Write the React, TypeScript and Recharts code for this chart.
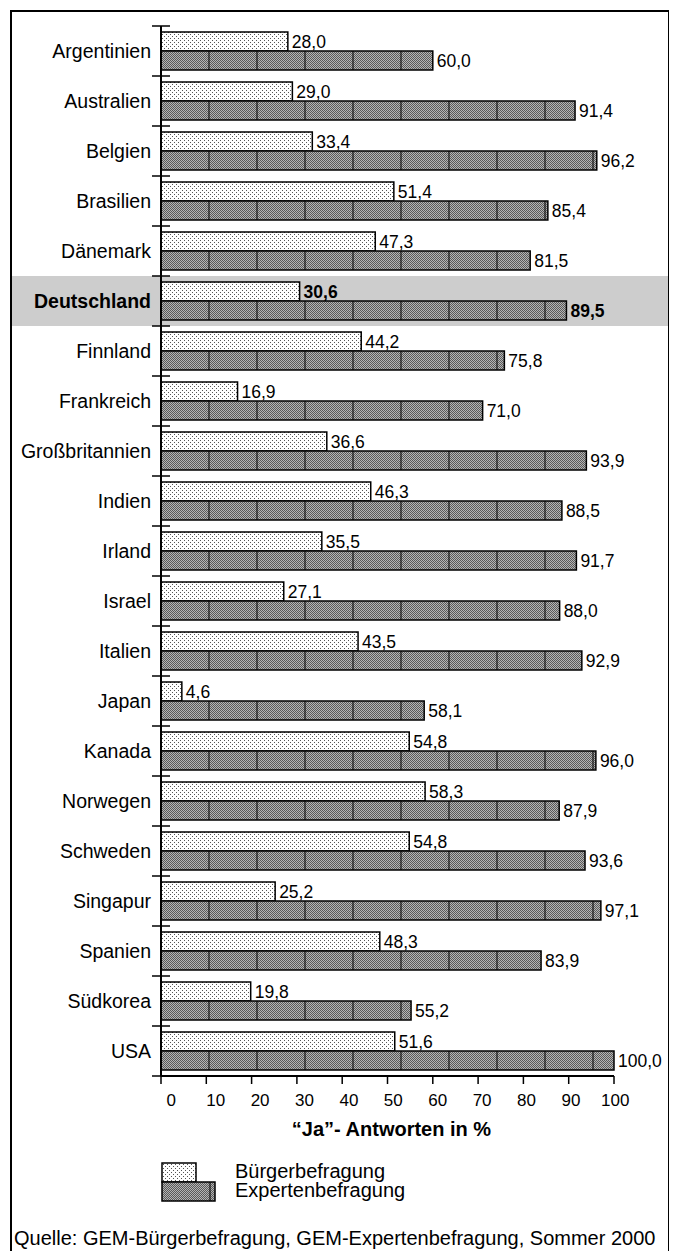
import React from 'react';
import { BarChart, Bar, XAxis, YAxis, ReferenceArea, LabelList, Legend } from 'recharts';

// Countries in display order (top to bottom)
const countries = [
  'Argentinien', 'Australien', 'Belgien', 'Brasilien', 'Dänemark', 'Deutschland',
  'Finnland', 'Frankreich', 'Großbritannien', 'Indien', 'Irland', 'Israel',
  'Italien', 'Japan', 'Kanada', 'Norwegen', 'Schweden', 'Singapur', 'Spanien',
  'Südkorea', 'USA',
];

// Share of "Ja" answers, citizen survey (%)
const buergerValues = [
  28.0, 29.0, 33.4, 51.4, 47.3, 30.6, 44.2, 16.9, 36.6, 46.3, 35.5, 27.1,
  43.5, 4.6, 54.8, 58.3, 54.8, 25.2, 48.3, 19.8, 51.6,
];

// Share of "Ja" answers, expert survey (%)
const expertenValues = [
  60.0, 91.4, 96.2, 85.4, 81.5, 89.5, 75.8, 71.0, 93.9, 88.5, 91.7, 88.0,
  92.9, 58.1, 96.0, 87.9, 93.6, 97.1, 83.9, 55.2, 100.0,
];

const xTicks = [0, 10, 20, 30, 40, 50, 60, 70, 80, 90, 100];
const seriesNames = ['Bürgerbefragung', 'Expertenbefragung'];
const highlightCountry = 'Deutschland';
const axisTitle = '“Ja”- Antworten in %';
const sourceNote = 'Quelle: GEM-Bürgerbefragung, GEM-Expertenbefragung, Sommer 2000';

const data = countries.map((name, i) => ({
  name,
  buerger: buergerValues[i],
  experten: expertenValues[i],
}));

const FONT = '"Liberation Sans", Arial, Helvetica, sans-serif';
const CHART_W = 662;
const CHART_H = 1243;
const MARGIN = { top: 18, right: 56, bottom: 135, left: 0 };
const Y_AXIS_W = 153;
const X_AXIS_H = 40;
const PLOT_H = CHART_H - MARGIN.top - MARGIN.bottom - X_AXIS_H;
const BAND = PLOT_H / countries.length;
const BRICK = 48; // spacing of the joints drawn in the expert bars
const HIGHLIGHT_FROM = -33;
const HIGHLIGHT_TO = 112;

const fmt = (v: number) => v.toFixed(1).replace('.', ',');

const CountryTick = (props: any) => {
  const { x, y, payload } = props;
  const name = payload.value as string;
  const bold = name === highlightCountry;
  const isLast = name === countries[countries.length - 1];
  return (
    <g>
      <line x1={x - 9} x2={x + 9} y1={y - BAND / 2} y2={y - BAND / 2} stroke="#000" strokeWidth={1.5} />
      {isLast && (
        <line x1={x - 9} x2={x} y1={y + BAND / 2} y2={y + BAND / 2} stroke="#000" strokeWidth={1.5} />
      )}
      <text
        x={x - 10}
        y={y}
        dy="0.355em"
        textAnchor="end"
        fontSize={19.5}
        fontWeight={bold ? 700 : 400}
        fontFamily={FONT}
        fill="#000"
      >
        {name}
      </text>
    </g>
  );
};

const PercentTick = (props: any) => {
  const { x, y, payload } = props;
  const v = Number(payload.value);
  return (
    <text x={x + 10.3 - 0.09 * v} y={y + 20} textAnchor="middle" fontSize={17} fontFamily={FONT} fill="#000">
      {v}
    </text>
  );
};

const ValueLabel = (props: any) => {
  const vb = props.viewBox || props;
  const { x, y, width, height } = vb;
  const idx = props.index;
  const bold = idx !== undefined && countries[idx] === highlightCountry;
  return (
    <text
      x={x + width + 4}
      y={y + height / 2}
      dy="0.355em"
      fontSize={17.5}
      fontWeight={bold ? 700 : 400}
      fontFamily={FONT}
      fill="#000"
    >
      {fmt(Number(props.value))}
    </text>
  );
};

const BrickBar = (props: any) => {
  const { x, y, width, height, fill } = props;
  if (!width || width <= 0) return null;
  const joints: number[] = [];
  for (let jx = x + BRICK; jx < x + width - 1; jx += BRICK) joints.push(jx);
  return (
    <g>
      <rect x={x} y={y} width={width} height={height} fill={fill} />
      {joints.map((jx) => (
        <line key={jx} x1={jx} x2={jx} y1={y} y2={y + height} stroke="#000" strokeWidth={1} />
      ))}
      <rect x={x} y={y} width={width} height={height} fill="none" stroke="#000" strokeWidth={1.5} />
    </g>
  );
};

const TitleLabel = (props: any) => {
  const vb = props.viewBox;
  return (
    <text
      x={vb.x + vb.width / 2 + 4}
      y={vb.y + vb.height + 20.3}
      textAnchor="middle"
      fontSize={20}
      fontWeight={700}
      fontFamily={FONT}
      fill="#000"
    >
      {axisTitle}
    </text>
  );
};

const LegendContent = (props: any) => {
  const items = props.payload || [];
  const light = items[0];
  const dark = items[1];
  return (
    <svg width={320} height={48} style={{ display: 'block', overflow: 'visible' }}>
      <rect x={1} y={1} width={34} height={19} fill={light?.color} stroke="#000" strokeWidth={1.5} />
      <rect x={1} y={20} width={53} height={19} fill={dark?.color} stroke="#000" strokeWidth={1.5} />
      <line x1={1 + BRICK} x2={1 + BRICK} y1={20} y2={39} stroke="#000" strokeWidth={1} />
      <text x={74} y={15.5} fontSize={20} fontFamily={FONT} fill="#000">{light?.value}</text>
      <text x={74} y={35.3} fontSize={20} fontFamily={FONT} fill="#000">{dark?.value}</text>
    </svg>
  );
};

export default function App() {
  return (
    <div style={{ position: 'relative', width: CHART_W, height: CHART_H, fontFamily: FONT }}>
      <style>{'html,body{overflow:hidden}'}</style>
      <svg width={0} height={0} style={{ position: 'absolute' }}>
        <defs>
          <pattern id="dotsLight" width={4} height={4} patternUnits="userSpaceOnUse">
            <rect width={4} height={4} fill="#fff" />
            <rect x={0} y={0} width={1} height={1} fill="#555" />
            <rect x={2} y={2} width={1} height={1} fill="#555" />
          </pattern>
          <pattern id="dotsDark" width={2} height={2} patternUnits="userSpaceOnUse">
            <rect width={2} height={2} fill="#b4b4b4" />
            <rect x={0} y={0} width={1} height={1} fill="#5a5a5a" />
            <rect x={1} y={1} width={1} height={1} fill="#5a5a5a" />
          </pattern>
        </defs>
      </svg>

      <div style={{ position: 'absolute', left: 0, top: 0 }}>
        <BarChart
          width={CHART_W}
          height={CHART_H}
          data={data}
          layout="vertical"
          margin={MARGIN}
          barGap={0}
          barSize={19}
        >
          <ReferenceArea
            y1={highlightCountry}
            y2={highlightCountry}
            x1={HIGHLIGHT_FROM}
            x2={HIGHLIGHT_TO}
            fill="#cdcdcd"
            fillOpacity={1}
            stroke="none"
            ifOverflow="visible"
            zIndex={-10}
          />
          <XAxis
            type="number"
            domain={[0, 100]}
            ticks={xTicks}
            interval={0}
            height={X_AXIS_H}
            tickSize={8}
            tickMargin={2}
            axisLine={{ stroke: '#000', strokeWidth: 2 }}
            tickLine={{ stroke: '#000', strokeWidth: 1.5 }}
            tick={<PercentTick />}
            label={{ content: TitleLabel } as any}
          />
          <YAxis
            type="category"
            dataKey="name"
            width={Y_AXIS_W}
            interval={0}
            tickSize={0}
            tickMargin={0}
            tickLine={false}
            axisLine={{ stroke: '#000', strokeWidth: 2 }}
            tick={<CountryTick />}
          />
          <Legend
            layout="horizontal"
            align="center"
            verticalAlign="middle"
            content={<LegendContent />}
            wrapperStyle={{ left: 153, top: 1154, width: 320, height: 48 }}
          />
          <Bar
            dataKey="buerger"
            name={seriesNames[0]}
            fill="url(#dotsLight)"
            stroke="#000"
            strokeWidth={1.5}
            isAnimationActive={false}
          >
            <LabelList dataKey="buerger" content={ValueLabel} />
          </Bar>
          <Bar
            dataKey="experten"
            name={seriesNames[1]}
            fill="url(#dotsDark)"
            shape={BrickBar}
            isAnimationActive={false}
          >
            <LabelList dataKey="experten" content={ValueLabel} />
          </Bar>
        </BarChart>
      </div>

      <div
        style={{
          position: 'absolute',
          left: 2,
          top: 2,
          width: 660,
          height: CHART_H - 2,
          border: '2px solid #000',
          borderBottom: 'none',
          boxSizing: 'border-box',
          pointerEvents: 'none',
        }}
      />
      <svg width={CHART_W} height={CHART_H} style={{ position: 'absolute', left: 0, top: 0, pointerEvents: 'none' }}>
        <text x={6} y={1237} fontSize={20} fontFamily={FONT} fill="#000">
          {sourceNote}
        </text>
      </svg>
    </div>
  );
}
